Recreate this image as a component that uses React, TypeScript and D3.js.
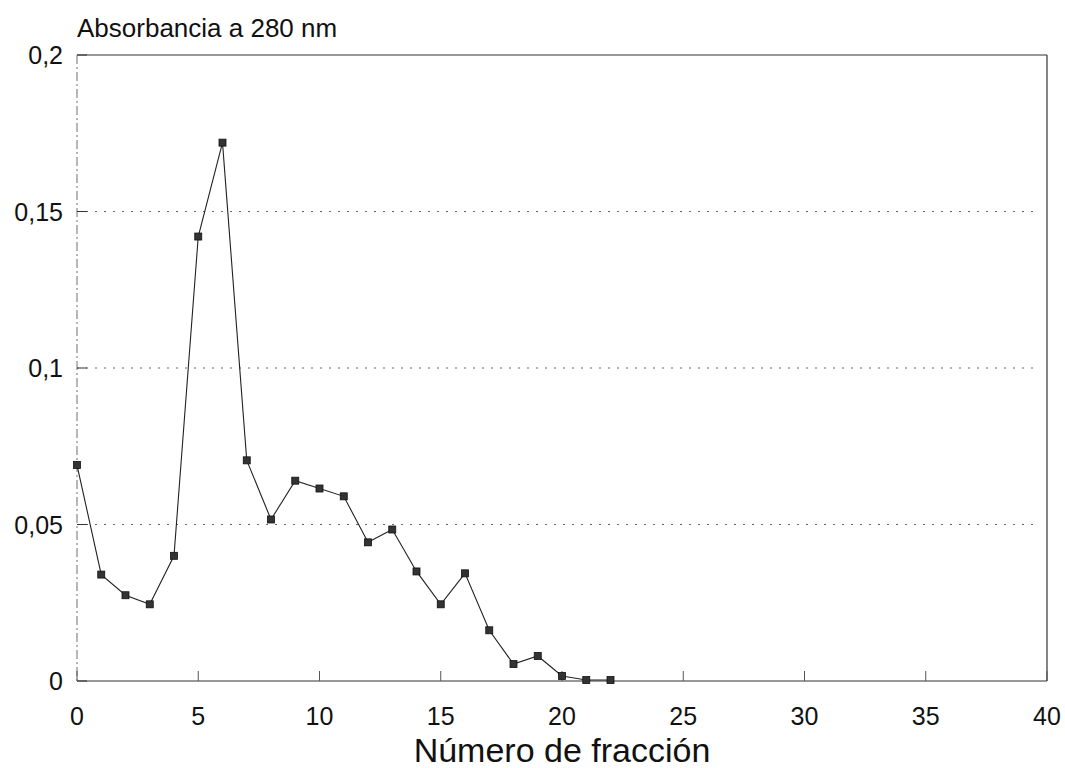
import React from "react";
import * as d3 from "d3";

const fractions = [0, 1, 2, 3, 4, 5, 6, 7, 8, 9, 10, 11, 12, 13, 14, 15, 16, 17, 18, 19, 20, 21, 22];
const absorbance = [
  0.069, 0.034, 0.0274, 0.0245, 0.04, 0.142, 0.172, 0.0705, 0.0516, 0.064, 0.0615, 0.059,
  0.0443, 0.0484, 0.035, 0.0245, 0.0344, 0.0162, 0.0054, 0.008, 0.0016, 0.0003, 0.0003,
];
const xTicks = [0, 5, 10, 15, 20, 25, 30, 35, 40];
const yTicks = [0, 0.05, 0.1, 0.15, 0.2];
const yTickLabels = ["0", "0,05", "0,1", "0,15", "0,2"];
const gridValues = [0.05, 0.1, 0.15];

const W = 1065;
const H = 768;
const FONT = "'Liberation Sans', Arial, Helvetica, sans-serif";

export default function App() {
  const x = d3.scaleLinear().domain([0, 40]).range([77, 1047]);
  const y = d3.scaleLinear().domain([0, 0.2]).range([681, 55]);
  const data = fractions.map((f, i) => ({ f, v: absorbance[i] }));
  const line = d3
    .line<{ f: number; v: number }>()
    .x((d) => x(d.f))
    .y((d) => y(d.v));

  const [x0, x1] = x.range();
  const [yb, yt] = y.range();

  return (
    <svg
      width={W}
      height={H}
      style={{ position: "absolute", left: 0, top: 0, background: "#fff" }}
      fontFamily={FONT}
    >
      <rect x={0} y={0} width={W} height={H} fill="#fff" />
      {/* grid */}
      {gridValues.map((g) => (
        <line
          key={"g" + g}
          x1={x0}
          x2={x1 - 14}
          y1={y(g)}
          y2={y(g)}
          stroke="#666"
          strokeWidth={1}
          strokeDasharray="2,7"
        />
      ))}
      {/* frame */}
      <line x1={x0} x2={x1} y1={yt} y2={yt} stroke="#333" strokeWidth={1.2} />
      <line x1={x0} x2={x1} y1={yb} y2={yb} stroke="#333" strokeWidth={1.2} />
      <line x1={x1} x2={x1} y1={yt} y2={yb} stroke="#333" strokeWidth={1.2} />
      <line
        x1={x0}
        x2={x0}
        y1={yt}
        y2={yb}
        stroke="#888"
        strokeWidth={1.2}
        strokeDasharray="9,3,2,3"
      />
      {/* y ticks */}
      {yTicks.map((t, i) => (
        <g key={"y" + t}>
          <line x1={x0} x2={x0 + 10} y1={y(t)} y2={y(t)} stroke="#333" strokeWidth={1} />
          <text
            x={x0 - 14}
            y={y(t)}
            dy="0.36em"
            textAnchor="end"
            fontSize={25}
            fill="#111"
          >
            {yTickLabels[i]}
          </text>
        </g>
      ))}
      {/* x ticks */}
      {xTicks.map((t) => (
        <g key={"x" + t}>
          <line x1={x(t)} x2={x(t)} y1={yb} y2={yb - 10} stroke="#555" strokeWidth={1} />
          <text x={x(t)} y={725} textAnchor="middle" fontSize={25} fill="#111">
            {t}
          </text>
        </g>
      ))}
      {/* titles */}
      <text x={77} y={37} fontSize={26} fill="#111">
        Absorbancia a 280 nm
      </text>
      <text x={(x0 + x1) / 2} y={762} textAnchor="middle" fontSize={34} fill="#111">
        Número de fracción
      </text>
      {/* series */}
      <path d={line(data) || ""} fill="none" stroke="#222" strokeWidth={1.1} />
      {data.map((d) => (
        <rect
          key={"p" + d.f}
          x={x(d.f) - 3.5}
          y={y(d.v) - 3.5}
          width={7}
          height={7}
          fill="#333"
          stroke="#111"
          strokeWidth={0.8}
        />
      ))}
    </svg>
  );
}
